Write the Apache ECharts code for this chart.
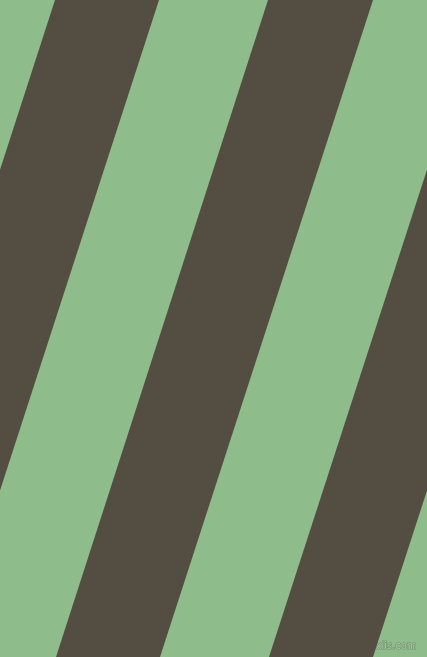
<!DOCTYPE html>
<html>
<head>
<meta charset="utf-8">
<script src="https://cdn.jsdelivr.net/npm/echarts@6/dist/echarts.min.js"></script>
<style>
  html, body { margin: 0; padding: 0; background: #8EBC8A; }
  #stripes { width: 427px; height: 657px; }
</style>
</head>
<body>
<div id="stripes"></div>
<script>
// dark bands, x where each edge meets the top (y=0) and bottom (y=657) of the picture
const bandTopLeft = [55, 268, 482];
const bandTopRight = [159, 373, 586];
const bandBottomLeft = [-158, 56, 269];
const bandBottomRight = [-54, 160, 373];
const picWidth = 427;
const picHeight = 657;

let greencolor = '#8EBC8A';
let darkcolor = '#544D42';

function bands() {
  var res = [];
  for (let i = 0; i < bandTopLeft.length; i++) {
    res.push([bandTopLeft[i], bandTopRight[i], bandBottomRight[i], bandBottomLeft[i]]);
  }
  return res;
}

const option = {
  backgroundColor: greencolor,
  animation: false,
  grid: { left: 0, right: 0, top: 0, bottom: 0 },
  xAxis: { type: 'value', min: 0, max: picWidth, show: false },
  yAxis: { type: 'value', min: 0, max: picHeight, inverse: true, show: false },
  series: [
    {
      type: 'custom',
      clip: true,
      data: bands(),
      renderItem: function (params, api) {
        var pts = [
          api.coord([api.value(0), 0]),
          api.coord([api.value(1), 0]),
          api.coord([api.value(2), picHeight]),
          api.coord([api.value(3), picHeight])
        ];
        return {
          type: 'polygon',
          shape: { points: pts },
          style: { fill: darkcolor }
        };
      }
    }
  ],
  graphic: [
    {
      type: 'text',
      right: 10,
      bottom: 5,
      style: {
        text: 'pixlis.com',
        font: '11px "Liberation Sans Narrow", "DejaVu Sans Condensed", sans-serif',
        fill: '#a8c4a5',
        stroke: '#6e8c6b',
        lineWidth: 1
      }
    }
  ]
};

var myChart = echarts.init(document.getElementById('stripes'));
myChart.setOption(option);
</script>
</body>
</html>
